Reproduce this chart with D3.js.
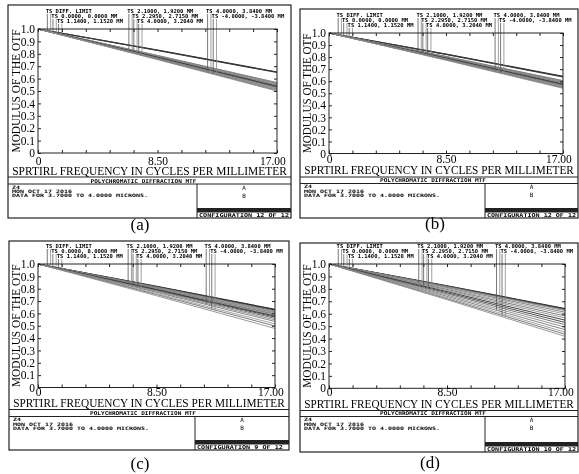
<!DOCTYPE html>
<html>
<head>
<meta charset="utf-8">
<script src="https://cdn.jsdelivr.net/npm/d3@7"></script>
<style>
  body { margin: 0; background: #fff; }
</style>
</head>
<body>
<div id="chart"></div>
<script>
// sample frequencies (cycles/mm) for every MTF curve
var freqs = [0, 8.5, 17];

// field legend, two curves (T, S) per entry
var fieldLabels = [
  "TS DIFF. LIMIT",
  "TS 0.0000, 0.0000 MM",
  "TS 1.1400, 1.1520 MM",
  "TS 2.1000, 1.9200 MM",
  "TS 2.2950, 2.7150 MM",
  "TS 4.0000, 3.2040 MM",
  "TS 4.0000, 3.8400 MM",
  "TS -4.0000, -3.8400 MM"
];

var yTickValues = [0, 0.1, 0.2, 0.3, 0.4, 0.5, 0.6, 0.7, 0.8, 0.9, 1.0];
var yTickLabels = ["0", "0.1", "0.2", "0.3", "0.4", "0.5", "0.6", "0.7", "0.8", "0.9", "1.0"];
var xTickValues = [0, 1.7, 3.4, 5.1, 6.8, 8.5, 10.2, 11.9, 13.6, 15.3, 17];
var xTickLabels = ["0", "", "", "", "", "8.50", "", "", "", "", "17.00"];

var captions = ["(a)", "(b)", "(c)", "(d)"];
var configText = ["CONFIGURATION 12 OF 12", "CONFIGURATION 12 OF 12", "CONFIGURATION 9 OF 12", "CONFIGURATION 10 OF 12"];
var infoLines = ["Z4", "MON OCT 17 2016", "DATA FOR 3.7000 TO 4.0000 MICRONS."];
var plotTitle = "POLYCHROMATIC DIFFRACTION MTF";

// modulus at 0, 8.5 and 17 cycles/mm for each curve
var mtfA = [
  [1, 0.830, 0.653], [1, 0.828, 0.650],
  [1, 0.787, 0.568], [1, 0.785, 0.563], [1, 0.782, 0.558], [1, 0.780, 0.553],
  [1, 0.777, 0.548], [1, 0.775, 0.543], [1, 0.772, 0.538], [1, 0.770, 0.533],
  [1, 0.767, 0.528], [1, 0.764, 0.522], [1, 0.761, 0.516], [1, 0.758, 0.510],
  [1, 0.756, 0.505], [1, 0.753, 0.500]
];
var mtfB = [
  [1, 0.824, 0.640], [1, 0.822, 0.636],
  [1, 0.806, 0.605], [1, 0.804, 0.600], [1, 0.802, 0.596], [1, 0.799, 0.591],
  [1, 0.797, 0.586], [1, 0.794, 0.581], [1, 0.792, 0.576], [1, 0.789, 0.571],
  [1, 0.787, 0.566], [1, 0.784, 0.561], [1, 0.782, 0.556], [1, 0.779, 0.551],
  [1, 0.777, 0.546], [1, 0.774, 0.541]
];
var mtfC = [
  [1, 0.820, 0.632], [1, 0.818, 0.628],
  [1, 0.814, 0.620], [1, 0.810, 0.612], [1, 0.806, 0.605], [1, 0.803, 0.598],
  [1, 0.800, 0.592], [1, 0.796, 0.585], [1, 0.793, 0.578], [1, 0.789, 0.570],
  [1, 0.784, 0.560], [1, 0.778, 0.548], [1, 0.771, 0.535], [1, 0.761, 0.515],
  [1, 0.753, 0.498], [1, 0.743, 0.478]
];
var mtfD = [
  [1, 0.825, 0.642], [1, 0.823, 0.638],
  [1, 0.820, 0.632], [1, 0.816, 0.625], [1, 0.810, 0.612], [1, 0.803, 0.598],
  [1, 0.795, 0.582], [1, 0.787, 0.566], [1, 0.778, 0.548], [1, 0.769, 0.530],
  [1, 0.760, 0.512], [1, 0.750, 0.492], [1, 0.740, 0.472], [1, 0.730, 0.452],
  [1, 0.721, 0.435], [1, 0.713, 0.418]
];

var svg = d3.select("#chart").append("svg")
  .attr("width", 579)
  .attr("height", 474);

// grey-only rendering, like the scanned figure
svg.append("defs").append("filter").attr("id", "grey")
  .append("feColorMatrix").attr("type", "saturate").attr("values", 0);
var root = svg.append("g").attr("filter", "url(#grey)");
root.append("rect").attr("width", 579).attr("height", 474).attr("fill", "#fff");

var serif = "'Liberation Serif', 'Times New Roman', serif";
var mono = "'DejaVu Sans Mono', monospace";
var curveColors = ["#2a2a2a", "#3a3a3a", "#6a6a6a", "#8a8a8a", "#777", "#999", "#6e6e6e", "#8e8e8e"];

// where each legend entry sits (frequency) and on which row
var labelFreq = [0.55, 0.95, 1.35, 6.35, 6.7, 7.05, 11.95, 12.35];
var labelRow = [0, 1, 2, 0, 1, 2, 0, 1];

// panel layouts (tb = x tick label baseline, xt = x title baseline)
var panels = [
  { x0: 8, x1: 291, y0: 5, y1: 218, l: 38, r: 277, t: 29, b: 153, tb: 165, xt: 175, h1: 177, h2: 184, div: 197, cx: 140, cy: 230, data: mtfA },
  { x0: 300, x1: 578, y0: 9, y1: 218, l: 329, r: 563, t: 33, b: 153.5, tb: 163.5, xt: 174, h1: 177, h2: 183.5, div: 485, cx: 435, cy: 229, data: mtfB },
  { x0: 9, x1: 289, y0: 241, y1: 450, l: 38, r: 275, t: 264, b: 387.5, tb: 396, xt: 406.8, h1: 409.5, h2: 416.5, div: 195, cx: 140, cy: 469, data: mtfC },
  { x0: 300, x1: 578, y0: 243, y1: 452, l: 329, r: 565, t: 264, b: 388.3, tb: 396.5, xt: 407.5, h1: 410.5, h2: 416.5, div: 485, cx: 430, cy: 468, data: mtfD }
];

function monoText(g, str, x, y, size, charW) {
  return g.append("text")
    .attr("x", x)
    .attr("y", y)
    .attr("font-family", mono)
    .attr("font-weight", "bold")
    .attr("font-size", size)
    .attr("fill", "#000")
    .attr("textLength", str.length * charW)
    .attr("lengthAdjust", "spacingAndGlyphs")
    .text(str);
}

// text squeezed horizontally to a given width, centred on cx
function squeezedText(g, str, cx, y, size, width) {
  var t = g.append("text")
    .attr("text-anchor", "middle")
    .attr("font-family", serif)
    .attr("font-size", size)
    .attr("fill", "#000")
    .text(str);
  var natural = t.node().getComputedTextLength();
  t.attr("transform", "translate(" + cx + "," + y + ") scale(" + (width / natural) + ",1)");
  return t;
}

function drawPanel(p, idx) {
  var x = d3.scaleLinear().domain([0, 17]).range([p.l, p.r]);
  var y = d3.scaleLinear().domain([0, 1]).range([p.b, p.t]);
  var g = root.append("g");

  // outer frame
  g.append("rect")
    .attr("x", p.x0).attr("y", p.y0)
    .attr("width", p.x1 - p.x0).attr("height", p.y1 - p.y0)
    .attr("fill", "none").attr("stroke", "#222").attr("stroke-width", 1.2);

  // MTF curves
  var line = d3.line()
    .x(function(d, i) { return x(freqs[i]); })
    .y(function(d) { return y(d); });

  g.selectAll(".mtf")
    .data(p.data)
    .enter()
    .append("path")
    .attr("class", "mtf")
    .attr("d", line)
    .attr("fill", "none")
    .attr("stroke", function(d, i) { return curveColors[i % curveColors.length]; })
    .attr("stroke-width", function(d, i) { return i < 2 ? 1.2 : 0.9; });

  // legend labels and their leader lines
  fieldLabels.forEach(function(lab, i) {
    var lx = x(labelFreq[i]);
    var ly = p.t - 16 + labelRow[i] * 5;
    monoText(g, lab, lx, ly, 5.4, 3.3);
    [0, 1].forEach(function(k) {
      var s = p.data[2 * i + k];
      var interp = d3.scaleLinear().domain(freqs).range(s);
      g.append("line")
        .attr("x1", lx + 1.6 + k * 3.3).attr("x2", lx + 1.6 + k * 3.3)
        .attr("y1", ly + 1)
        .attr("y2", y(interp(labelFreq[i])))
        .attr("stroke", k === 0 ? "#555" : "#888")
        .attr("stroke-width", 0.8);
    });
  });

  // plot frame
  g.append("rect")
    .attr("x", p.l).attr("y", p.t)
    .attr("width", p.r - p.l).attr("height", p.b - p.t)
    .attr("fill", "none").attr("stroke", "#222").attr("stroke-width", 1);

  // axes with inward ticks
  var left = g.append("g")
    .attr("transform", "translate(" + p.l + ",0)")
    .call(d3.axisLeft(y).tickValues(yTickValues).tickSize(-3).tickPadding(3)
      .tickFormat(function(d, i) { return yTickLabels[i]; }));
  var right = g.append("g")
    .attr("transform", "translate(" + p.r + ",0)")
    .call(d3.axisRight(y).tickValues(yTickValues).tickSize(-3).tickFormat(""));
  var top = g.append("g")
    .attr("transform", "translate(0," + p.t + ")")
    .call(d3.axisTop(x).tickValues(xTickValues).tickSize(-3).tickFormat(""));
  var bottom = g.append("g")
    .attr("transform", "translate(0," + p.b + ")")
    .call(d3.axisBottom(x).tickValues(xTickValues).tickSize(-3).tickPadding(p.tb - p.b - 8.2)
      .tickFormat(function(d, i) { return xTickLabels[i]; }));

  [left, right, top, bottom].forEach(function(a) {
    a.select(".domain").remove();
    a.selectAll(".tick line").attr("stroke", "#222");
    a.attr("font-family", serif).attr("font-size", 11.5);
    a.selectAll("text").attr("fill", "#000");
  });
  bottom.selectAll("text").filter(function(d, i) { return i === xTickLabels.length - 1; })
    .attr("dx", "-0.4em");

  // axis titles
  g.append("text")
    .attr("transform", "translate(" + (p.l - 22) + "," + ((p.t + p.b) / 2) + ") rotate(-90)")
    .attr("text-anchor", "middle")
    .attr("dy", "0.35em")
    .attr("font-family", serif)
    .attr("font-size", 11.5)
    .attr("fill", "#000")
    .attr("textLength", p.b - p.t - 1)
    .attr("lengthAdjust", "spacingAndGlyphs")
    .text("MODULUS OF THE OTF");

  squeezedText(g, "SPRTIRL FREQUENCY IN CYCLES PER MILLIMETER", (p.x0 + p.x1) / 2, p.xt, 12.5, p.x1 - p.x0 - 8);

  // footer boxes
  [p.h1, p.h2].forEach(function(hy) {
    g.append("line")
      .attr("x1", p.x0).attr("x2", p.x1).attr("y1", hy).attr("y2", hy)
      .attr("stroke", "#222").attr("stroke-width", 1);
  });
  g.append("line")
    .attr("x1", p.div).attr("x2", p.div).attr("y1", p.h2).attr("y2", p.y1)
    .attr("stroke", "#222").attr("stroke-width", 1);

  monoText(g, plotTitle, (p.x0 + p.x1) / 2 - 6 - plotTitle.length * 3.65 / 2, p.h2 - 1.5, 5.3, 3.65);

  infoLines.forEach(function(s, i) {
    monoText(g, s, p.x0 + 4, p.h2 + 4.8 + i * 4.2, 4.6, 4);
  });

  var rc = (p.div + p.x1) / 2;
  ["A", "B"].forEach(function(s, i) {
    g.append("text")
      .attr("x", rc).attr("y", p.h2 + 5.5 + i * 8)
      .attr("text-anchor", "middle")
      .attr("font-family", mono).attr("font-size", 6).attr("fill", "#000")
      .text(s);
  });

  g.append("rect")
    .attr("x", p.div).attr("y", p.y1 - 10)
    .attr("width", p.x1 - p.div).attr("height", 4.5)
    .attr("fill", "#222");
  monoText(g, configText[idx], p.div + 2, p.y1 - 1, 5.3, (p.x1 - p.div - 4) / configText[0].length);

  // caption
  g.append("text")
    .attr("x", p.cx).attr("y", p.cy)
    .attr("text-anchor", "middle")
    .attr("font-family", serif)
    .attr("font-size", 17)
    .attr("fill", "#000")
    .text(captions[idx]);
}

panels.forEach(drawPanel);
</script>
</body>
</html>
